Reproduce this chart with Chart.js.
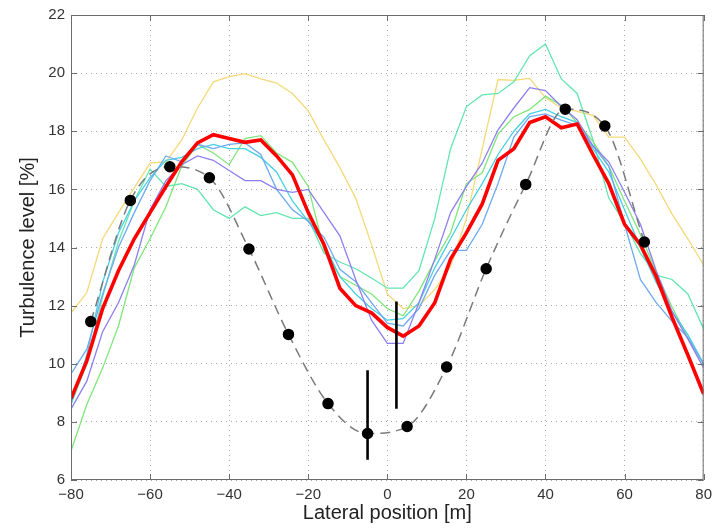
<!DOCTYPE html>
<html>
<head>
<meta charset="utf-8">
<script src="https://cdn.jsdelivr.net/npm/chart.js@4.4.1/dist/chart.umd.min.js"></script>
<style>
  html, body { margin: 0; padding: 0; background: #fff; }
  #wrap { width: 718px; height: 528px; }
</style>
</head>
<body>
<div id="wrap"><canvas id="myChart" width="718" height="528"></canvas></div>
<script>
// lateral positions shared by all measured profiles (m)
var xs = [-80,-76,-72,-68,-64,-60,-56,-52,-48,-44,-40,-36,-32,-28,-24,-20,-16,-12,-8,-4,
          0,4,8,12,16,20,24,28,32,36,40,44,48,52,56,60,64,68,72,76,80];

var yellowVals = [11.74,12.45,14.3,15.2,16.05,16.9,16.95,17.7,18.8,19.7,19.88,19.98,19.8,19.66,19.3,18.7,17.7,16.75,15.7,14.1,
                  12.4,11.9,12.0,12.55,13.35,15.0,17.4,19.78,19.75,19.82,19.15,18.8,18.68,18.55,17.8,17.8,17.05,16.15,15.15,14.3,13.4];
var mintVals   = [8.6,10.0,12.3,14.2,15.6,16.7,16.1,16.2,16.0,15.3,15.0,15.4,15.1,15.2,15.0,15.0,13.8,13.5,13.27,12.95,
                  12.6,12.6,13.2,15.0,17.4,18.85,19.25,19.3,19.7,20.6,21.0,19.8,19.3,17.7,15.7,14.85,13.8,13.05,12.9,12.4,11.2];
var limeVals   = [7.0,8.6,9.85,11.3,13.3,14.3,15.4,16.8,17.55,17.25,16.85,17.75,17.85,17.25,16.93,16.1,13.9,13.0,12.7,12.4,
                  11.9,11.65,12.5,13.55,14.5,16.2,16.57,17.9,18.5,18.75,19.2,18.9,18.3,17.65,16.8,15.6,14.45,13.15,11.95,10.9,9.98];
var cyanVals   = [8.6,10.3,12.8,14.5,15.6,16.4,17.0,17.1,17.4,17.55,17.4,17.4,17.1,16.6,15.6,14.9,14.1,13.0,12.4,11.9,
                  11.5,11.55,12.1,13.3,14.3,15.3,16.2,17.2,18.0,18.6,18.75,18.5,18.3,17.4,16.6,15.3,14.0,12.8,11.8,11.0,10.0];
var blueVals   = [9.65,10.5,12.4,14.0,15.2,16.3,17.15,16.95,17.55,17.4,17.55,17.6,17.2,16.0,15.3,14.9,14.35,13.25,12.82,12.1,
                  11.4,11.3,11.9,13.05,13.9,13.9,14.8,16.2,17.8,18.5,18.6,18.38,18.2,17.5,16.8,14.8,12.9,12.1,11.46,10.9,9.98];
var purpleVals = [8.44,9.4,11.1,12.1,13.4,15.3,16.3,16.85,17.15,17.0,16.65,16.3,16.3,16.0,15.9,16.0,15.2,14.4,12.9,11.5,
                  10.7,10.7,12.1,13.6,15.2,16.1,16.9,18.05,18.8,19.5,19.4,18.85,18.4,17.5,16.95,15.9,14.8,13.2,11.8,10.85,9.85];
var redVals    = [8.8,10.1,11.9,13.2,14.3,15.2,16.1,16.95,17.6,17.88,17.75,17.62,17.7,17.15,16.5,15.2,14.1,12.6,12.0,11.75,
                  11.25,10.95,11.3,12.1,13.6,14.5,15.5,17.0,17.4,18.3,18.5,18.12,18.25,17.2,16.2,14.8,14.1,13.0,11.6,10.3,8.96];

// point measurements (black dots, dashed curve)
var dotX = [-75,-65,-55,-45,-35,-25,-15,-5,5,15,25,35,45,55,65];
var dotY = [11.45,15.62,16.78,16.4,13.95,11.01,8.63,7.6,7.84,9.89,13.27,16.17,18.76,18.18,14.19];

// vertical bars
var barX = [-5, 2.3];
var barLow = [6.7, 8.45];
var barHigh = [9.78, 12.14];

var xTicks = [-80,-60,-40,-20,0,20,40,60,80];
var yTicks = [6,8,10,12,14,16,18,20,22];

function pts(xv, yv) {
  return xv.map(function (x, i) { return {x: x, y: yv[i]}; });
}

function profile(vals, color, width) {
  return {
    data: pts(xs, vals),
    borderColor: color,
    borderWidth: width,
    pointRadius: 0,
    fill: false,
    tension: 0
  };
}

var datasets = [];
barX.forEach(function (bx, i) {
  datasets.push({
    data: [{x: bx, y: barLow[i]}, {x: bx, y: barHigh[i]}],
    borderColor: '#000',
    borderWidth: 2.6,
    pointRadius: 0,
    showLine: true
  });
});
datasets.push({
  data: pts(dotX, dotY),
  borderColor: '#7a7a7a',
  borderWidth: 1.5,
  borderDash: [10, 6],
  backgroundColor: '#000',
  pointBackgroundColor: '#000',
  pointBorderColor: '#000',
  pointRadius: 5,
  cubicInterpolationMode: 'monotone'
});
datasets.push(profile(redVals, '#ff0000', 3.6));
datasets.push(profile(purpleVals, '#8c7ff0', 1.3));
datasets.push(profile(blueVals, '#6eaaf0', 1.3));
datasets.push(profile(cyanVals, '#45cfe3', 1.3));
datasets.push(profile(limeVals, '#7fe67a', 1.3));
datasets.push(profile(mintVals, '#62e6b0', 1.3));
datasets.push(profile(yellowVals, '#f5d978', 1.3));

// box round the plot with inward ticks, as in the original figure
var boxPlugin = {
  id: 'box',
  afterDatasetsDraw: function (chart) {
    var a = chart.chartArea, c = chart.ctx;
    var sx = chart.scales.x, sy = chart.scales.y;
    c.save();
    c.strokeStyle = '#6b6b6b';
    c.lineWidth = 1;
    c.strokeRect(a.left + 0.5, a.top + 0.5, a.right - a.left - 1, a.bottom - a.top - 1);
    c.beginPath();
    xTicks.forEach(function (t) {
      var px = Math.round(sx.getPixelForValue(t)) + 0.5;
      c.moveTo(px, a.bottom); c.lineTo(px, a.bottom - 6);
      c.moveTo(px, a.top); c.lineTo(px, a.top + 6);
    });
    yTicks.forEach(function (t) {
      var py = Math.round(sy.getPixelForValue(t)) + 0.5;
      c.moveTo(a.left, py); c.lineTo(a.left + 6, py);
      c.moveTo(a.right, py); c.lineTo(a.right - 6, py);
    });
    c.stroke();
    c.restore();
  }
};

var tickFont = {family: '"Liberation Sans", Arial, sans-serif', size: 15};
var titleFont = {family: '"Liberation Sans", Arial, sans-serif', size: 20};

var ctx = document.getElementById('myChart');
var myChart = new Chart(ctx, {
  type: 'scatter',
  data: {datasets: datasets},
  plugins: [boxPlugin],
  options: {
    responsive: false,
    animation: false,
    showLine: true,
    layout: {padding: {left: 0, right: 13, top: 11, bottom: 0}},
    plugins: {legend: {display: false}, tooltip: {enabled: false}},
    scales: {
      x: {
        type: 'linear', min: -80, max: 80,
        afterBuildTicks: function (s) { s.ticks = xTicks.map(function (v) { return {value: v}; }); },
        afterFit: function (s) { s.height = 48; },
        grid: {color: '#a8a8a8', lineWidth: 1, drawTicks: false},
        border: {display: false, dash: [1, 4]},
        ticks: {
          font: tickFont, color: '#333', padding: 6, maxRotation: 0,
          callback: function (v) { return String(v).replace('-', '\u2212'); }
        },
        title: {display: true, text: 'Lateral position [m]', font: titleFont, color: '#222', padding: {top: 0, bottom: 3}}
      },
      y: {
        type: 'linear', min: 6, max: 22,
        afterBuildTicks: function (s) { s.ticks = yTicks.map(function (v) { return {value: v}; }); },
        afterFit: function (s) { s.width = 71; },
        grid: {color: '#a8a8a8', lineWidth: 1, drawTicks: false},
        border: {display: false, dash: [1, 4]},
        ticks: {font: tickFont, color: '#333', padding: 6},
        title: {display: true, text: 'Turbulence level [%]', font: titleFont, color: '#222', padding: {top: 16, bottom: 0}}
      }
    }
  }
});
</script>
</body>
</html>
